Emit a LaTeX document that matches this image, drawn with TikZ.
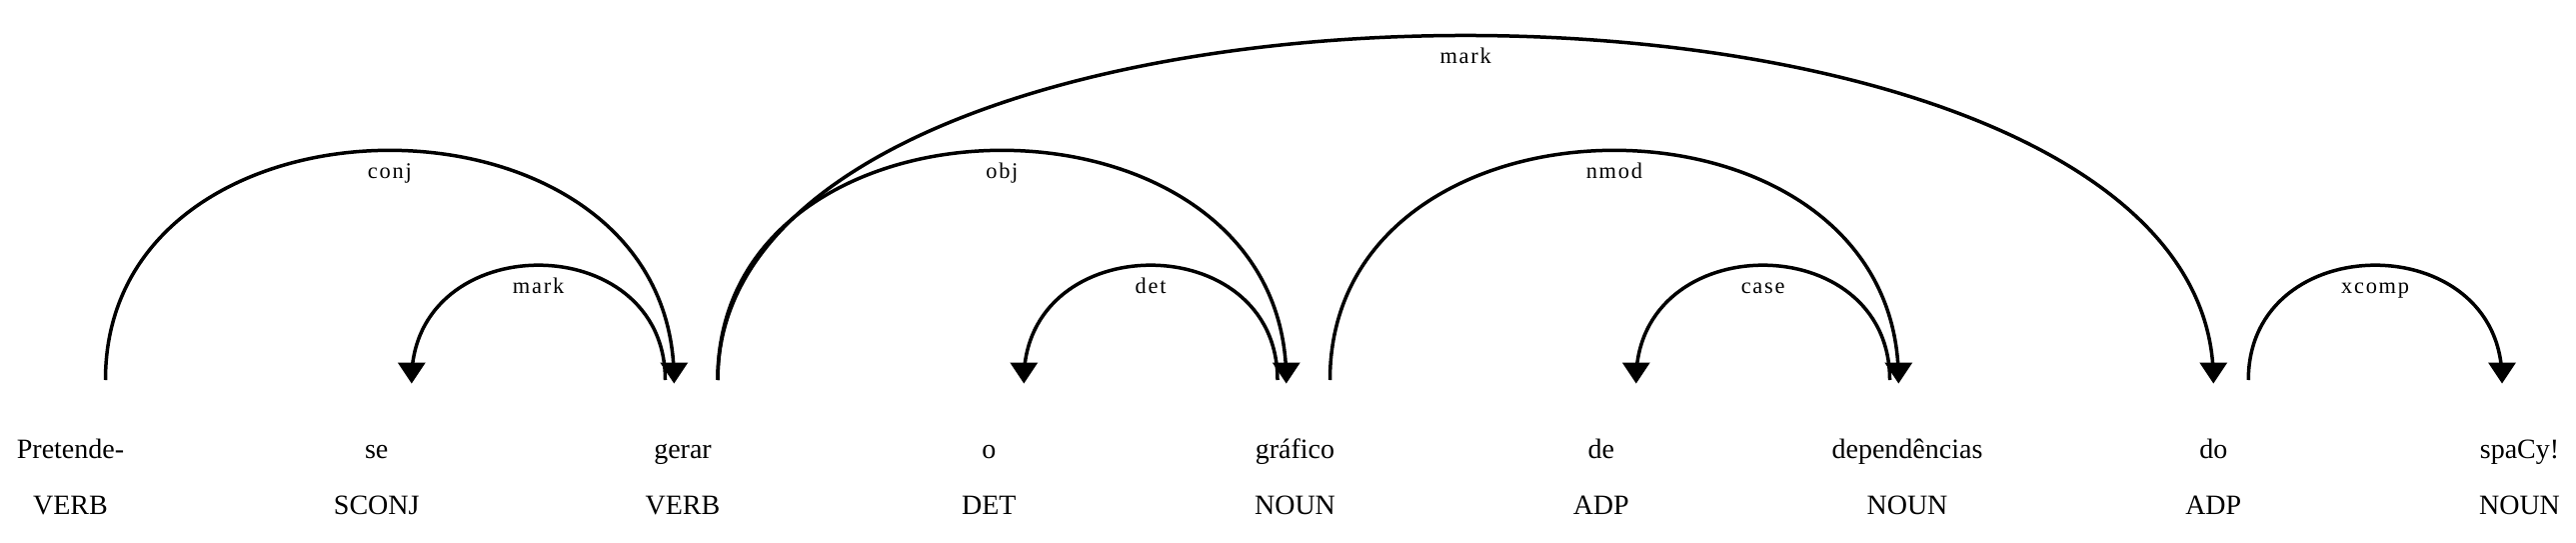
\documentclass[tikz,border=0pt]{standalone}
\usepackage{fontspec}
\setmainfont{Liberation Serif}
\usetikzlibrary{calc}

\begin{document}
\begin{tikzpicture}[x=1pt, y=-1pt,
    word/.style={anchor=base, inner sep=0pt, font=\fontsize{28}{34}\selectfont},
    deplabel/.style={anchor=base, inner sep=0pt, font=\fontsize{22.4}{27}\selectfont\addfontfeature{LetterSpace=7.8}},
    deparc/.style={line width=3.5pt}]
            \useasboundingbox (0,0) rectangle (2577,543);
            \foreach \w/\t [count=\i from 0] in {Pretende-/VERB, se/SCONJ, gerar/VERB, o/DET, gráfico/NOUN, de/ADP, dependências/NOUN, do/ADP, spaCy!/NOUN} {
                \pgfmathsetmacro{\x}{70.5 + 306.25*\i}
                \node[word] (W\i) at (\x, 458.75) {\w};
                \node[word] (T\i) at (\x, 514.75) {\t};
                \coordinate (A\i) at (\x, 380);
            }
            \foreach \s/\e/\lev/\lab/\tip in {0/2/2/conj/Q, 1/2/1/mark/P, 2/4/2/obj/Q, 2/7/3/mark/Q, 3/4/1/det/P, 4/6/2/nmod/Q, 5/6/1/case/P, 7/8/1/xcomp/Q} {
                \pgfmathsetmacro{\dx}{35*(3-\lev)/4}
                \pgfmathsetmacro{\h}{\lev*153.125}
                \pgfmathsetmacro{\ly}{0.75*\h-28}
                \coordinate (P) at ([xshift=35pt]A\s);
                \coordinate (Q) at ([xshift=-\dx pt]A\e);
                \draw[deparc] (P) .. controls ([yshift=\h pt]P) and ([yshift=\h pt]Q) .. (Q);
                \fill ([yshift=-3.5pt]\tip) -- ([shift={(-14pt,17.5pt)}]\tip) -- ([shift={(14pt,17.5pt)}]\tip) -- cycle;
                \node[deplabel] (L\s\e) at ($(P)!0.5!(Q) - (0,\ly)$) {\lab};
            }
        \end{tikzpicture}
\end{document}
